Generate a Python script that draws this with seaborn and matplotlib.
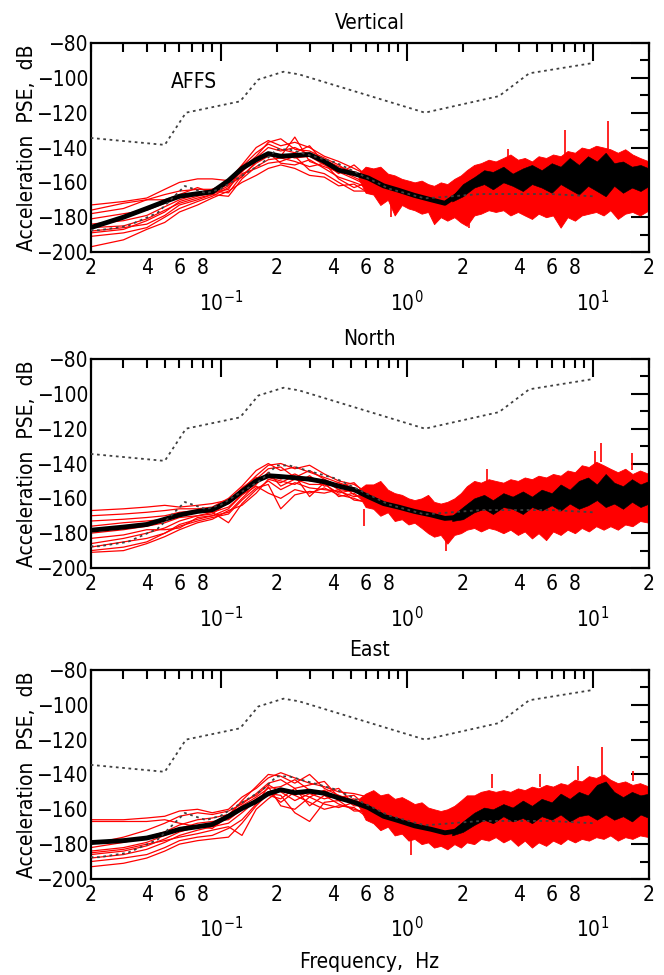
import matplotlib
matplotlib.use('Agg')
import matplotlib.pyplot as plt
from matplotlib.ticker import FixedLocator, FuncFormatter, MultipleLocator
import numpy as np
import pandas as pd
import seaborn as sns

# ---- frequency nodes (Hz) ----
red_f = [0.02, 0.03, 0.04, 0.05, 0.06, 0.075, 0.09, 0.11, 0.13, 0.155,
         0.18, 0.21, 0.25, 0.3, 0.36, 0.43, 0.52, 0.62, 0.75]
mean_f = red_f + [0.9, 1.1, 1.35, 1.6, 1.85, 2.2, 2.6, 3.0, 4.0, 5.0,
                  7.0, 10.0, 12.0, 15.0, 20.0]
band_f = [0.55, 0.6, 0.66, 0.72, 0.79, 0.86, 0.94, 1.02, 1.1, 1.2,
          1.3, 1.4, 1.52, 1.65, 1.8, 1.95, 2.1, 2.3, 2.5, 2.75,
          3.0, 3.3, 3.6, 3.95, 4.3, 4.7, 5.1, 5.6, 6.1, 6.7,
          7.3, 8.0, 8.7, 9.5, 10.4, 11.4, 12.4, 13.6, 14.9, 16.3,
          17.9, 20.0]
bb_f = [1.75, 2.0, 2.3, 2.6, 2.9, 3.3, 3.7, 4.2, 4.7, 5.3, 6.0,
        6.7, 7.5, 8.4, 9.4, 10.5, 11.7, 13.0, 14.5, 16.2, 18.0, 20.0]

# Peterson noise models (dotted)
nhnm_f = [0.02, 0.05, 0.065, 0.127, 0.159, 0.217, 0.263, 1.25, 3.125, 4.545, 10.0]
nhnm_db = [-134.5, -138.5, -120.0, -113.5, -101.0, -96.5, -98.0, -120.0, -110.5, -97.4, -91.5]
nlnm_f = [0.02, 0.0222, 0.0316, 0.0457, 0.0641, 0.0833, 0.1, 0.167, 0.2, 0.233,
          0.417, 0.806, 1.25, 2.5, 5.88, 10.0]
nlnm_db = [-187.5, -187.5, -185.0, -177.5, -162.1, -166.2, -163.7, -149.0, -141.1, -141.1,
           -148.7, -163.7, -169.2, -166.7, -166.7, -168.0]

# ---- Vertical ----
vert_mean = [-186, -180, -175, -171, -168, -166.5, -165.5, -159, -152, -147,
             -143.5, -145, -144.5, -144, -148, -153, -155, -157.5, -162,
             -164.5, -167.5, -170, -172, -167.5, -160.5, -156, -157.5, -157, -156.5,
             -155, -150, -151, -156, -158]
vert_red = [
    [-173, -171, -169, -164, -160, -158, -158, -159, -150, -140, -136, -139, -137, -140, -145, -148, -152, -156, -160],
    [-178, -175, -170, -167, -165, -164, -164, -160, -154, -146, -140, -142, -140, -144, -147, -151, -154, -158, -162],
    [-181, -178, -176, -172, -168, -166, -164, -161, -151, -143, -138, -141, -143, -139, -149, -155, -150, -157, -164],
    [-184, -182, -179, -174, -170, -167, -165, -166, -156, -149, -145, -144, -146, -145, -150, -153, -157, -161, -158],
    [-186, -185, -181, -176, -172, -169, -167, -162, -153, -147, -143, -149, -150, -147, -152, -157, -160, -163, -166],
    [-188, -186, -184, -179, -173, -170, -167, -168, -158, -151, -147, -146, -148, -151, -149, -158, -163, -160, -165],
    [-191, -189, -186, -180, -175, -171, -168, -163, -155, -152, -149, -148, -145, -153, -155, -160, -165, -165, -167],
    [-197, -193, -187, -183, -177, -173, -169, -165, -160, -156, -152, -150, -152, -156, -157, -162, -161, -166, -168],
    [-176, -172, -170, -170, -167, -163, -166, -164, -152, -145, -137, -135, -141, -142, -146, -150, -156, -155, -161],
    [-189, -187, -182, -177, -171, -168, -166, -161, -157, -148, -144, -145, -134, -148, -151, -154, -158, -162, -163],
]
vert_hi = [-155, -151, -152, -151, -155, -156, -158, -159, -160, -159,
           -161, -162, -160, -161, -158, -156, -153, -150, -149, -147,
           -148, -146, -144, -147, -146, -148, -145, -146, -144, -145,
           -142, -143, -140, -141, -139, -140, -141, -143, -141, -144,
           -146, -148]
vert_lo = [-158, -166, -167, -173, -170, -179, -173, -175, -176, -178,
           -177, -184, -180, -182, -180, -183, -185, -179, -178, -176,
           -177, -176, -179, -177, -179, -181, -178, -180, -179, -186,
           -180, -182, -179, -178, -177, -179, -176, -181, -178, -177,
           -179, -176]
vert_khi = [-168, -161, -157, -153, -154, -151, -155, -152, -150, -153, -149,
            -151, -146, -150, -145, -148, -143, -149, -148, -151, -150, -152]
vert_klo = [-171, -168, -163, -161, -164, -160, -162, -165, -161, -163, -166,
            -161, -164, -167, -162, -165, -168, -162, -166, -163, -165, -162]
vert_spikes = [(3.5, -146, -141), (7.1, -145, -130), (12.0, -141, -125),
               (0.82, -172, -180), (2.15, -180, -186)]

# ---- North ----
north_mean = [-178.3, -176.5, -175, -172, -169.5, -167.5, -166.5, -162, -156, -150,
              -147, -147.5, -148.2, -149, -150.5, -153, -155, -159, -163,
              -165, -167.5, -169.5, -171.5, -171, -164, -162.5, -163, -162, -161,
              -157.5, -154, -154, -157, -156.5]
north_red = [
    [-167, -166, -165, -164, -165, -164, -163, -161, -155, -147, -141, -140, -143, -141, -146, -150, -152, -157, -160],
    [-170, -169, -168, -167, -166, -166, -165, -160, -153, -144, -140, -144, -142, -145, -148, -151, -154, -158, -163],
    [-173, -172, -171, -170, -168, -167, -167, -163, -156, -149, -143, -142, -148, -144, -149, -153, -151, -159, -161],
    [-176, -174, -173, -172, -170, -168, -168, -165, -158, -151, -146, -149, -146, -150, -150, -155, -156, -156, -164],
    [-180, -178, -176, -174, -171, -170, -169, -162, -154, -148, -148, -150, -152, -147, -153, -151, -158, -160, -166],
    [-183, -181, -178, -178, -177, -171, -170, -168, -160, -152, -145, -153, -149, -152, -152, -157, -155, -161, -163],
    [-186, -183, -180, -177, -173, -170, -168, -174, -163, -155, -150, -155, -151, -154, -155, -156, -159, -158, -167],
    [-188, -185, -183, -180, -175, -172, -170, -166, -158, -153, -157, -160, -155, -157, -154, -158, -160, -163, -165],
    [-190, -188, -185, -180, -176, -173, -171, -169, -161, -154, -152, -166, -158, -156, -157, -155, -161, -162, -168],
    [-191, -190, -186, -182, -178, -174, -172, -167, -164, -157, -149, -151, -147, -159, -151, -159, -157, -164, -162],
]
north_hi = [-155, -152, -152, -150, -155, -157, -158, -160, -161, -160,
            -158, -162, -163, -162, -160, -157, -153, -150, -151, -149,
            -150, -151, -149, -150, -148, -149, -147, -148, -146, -147,
            -144, -145, -141, -142, -139, -141, -143, -145, -143, -146,
            -144, -146]
north_lo = [-158, -165, -166, -170, -168, -173, -172, -175, -174, -177,
            -180, -182, -181, -186, -181, -180, -178, -177, -179, -177,
            -178, -180, -178, -181, -179, -183, -180, -184, -179, -181,
            -178, -180, -177, -179, -176, -178, -176, -178, -175, -176,
            -173, -174]
north_khi = [-170, -165, -160, -158, -161, -157, -159, -156, -159, -155, -157,
             -152, -155, -150, -148, -152, -146, -151, -153, -149, -152, -150]
north_klo = [-173, -172, -168, -166, -169, -165, -166, -169, -165, -167, -164,
             -167, -163, -166, -164, -161, -165, -163, -166, -162, -165, -163]
north_spikes = [(0.59, -166, -176), (1.62, -182, -190), (2.7, -150, -143),
                (10.2, -140, -133), (11.0, -139, -128), (16.3, -144, -134)]

# ---- East ----
east_mean = [-179.1, -178, -176.5, -174, -171.5, -170, -168.7, -164, -159.5, -155.5,
             -151, -148.8, -150.5, -149.6, -150.8, -153.5, -156, -159, -164,
             -166.5, -169.5, -171.5, -173.5, -172.5, -166, -163, -162.5, -161, -160,
             -157.5, -155, -154.5, -158, -158]
east_red = [
    [-166, -166, -165, -164, -161, -160, -162, -160, -153, -148, -142, -139, -142, -145, -147, -150, -151, -153, -158],
    [-167, -167, -167, -166, -168, -170, -171, -164, -155, -147, -140, -141, -145, -140, -148, -152, -155, -157, -160],
    [-180, -176, -172, -168, -164, -162, -163, -161, -157, -151, -145, -143, -148, -146, -144, -153, -152, -159, -162],
    [-182, -179, -176, -173, -169, -166, -165, -163, -158, -153, -148, -147, -143, -149, -150, -148, -157, -156, -164],
    [-184, -182, -179, -175, -171, -168, -167, -166, -160, -154, -150, -156, -150, -153, -149, -155, -154, -160, -161],
    [-186, -184, -181, -177, -173, -170, -168, -163, -156, -152, -146, -150, -155, -151, -154, -152, -158, -158, -166],
    [-188, -186, -183, -179, -175, -172, -170, -168, -162, -155, -152, -154, -148, -158, -152, -157, -160, -162, -163],
    [-190, -188, -186, -182, -178, -176, -175, -171, -166, -157, -147, -158, -160, -153, -157, -159, -156, -163, -168],
    [-193, -191, -188, -184, -180, -178, -177, -176, -168, -158, -151, -152, -162, -167, -156, -155, -161, -161, -165],
    [-185, -183, -180, -178, -176, -174, -172, -170, -175, -160, -154, -149, -152, -156, -160, -158, -159, -165, -167],
]
east_hi = [-154, -151, -149, -152, -151, -154, -153, -155, -157, -156,
           -159, -160, -161, -160, -158, -155, -152, -152, -150, -149,
           -150, -149, -150, -148, -149, -147, -148, -146, -147, -145,
           -146, -143, -144, -141, -142, -140, -143, -145, -144, -146,
           -145, -147]
east_lo = [-158, -166, -168, -172, -170, -175, -174, -178, -177, -180,
           -179, -182, -181, -183, -180, -182, -179, -180, -177, -178,
           -176, -179, -177, -181, -178, -182, -179, -181, -178, -180,
           -177, -179, -177, -178, -176, -177, -175, -178, -176, -177,
           -175, -176]
east_khi = [-172, -167, -162, -159, -160, -157, -159, -155, -158, -154, -156,
            -151, -154, -150, -152, -146, -144, -150, -153, -150, -152, -151]
east_klo = [-175, -173, -169, -166, -168, -164, -167, -165, -168, -164, -166,
            -163, -167, -164, -163, -166, -163, -166, -164, -167, -163, -165]
east_spikes = [(1.05, -176, -186), (2.85, -148, -140), (5.2, -147, -140),
               (8.3, -143, -135), (11.2, -141, -124), (16.5, -144, -138)]

titles = ['Vertical', 'North', 'East']

sns.set_style('white')
plt.rcParams['font.family'] = ['DejaVu Sans']
plt.rcParams['font.stretch'] = 'condensed'
plt.rcParams['mathtext.fontset'] = 'dejavusans'
for key in ('text.color', 'axes.labelcolor', 'xtick.color', 'ytick.color', 'axes.edgecolor'):
    plt.rcParams[key] = 'black'

FS = 15
fig = plt.figure(figsize=(6.64, 9.75), dpi=100)
bottoms = [0.7415, 0.4174, 0.0985]

panels = [
    (vert_mean, vert_red, vert_hi, vert_lo, vert_khi, vert_klo, vert_spikes),
    (north_mean, north_red, north_hi, north_lo, north_khi, north_klo, north_spikes),
    (east_mean, east_red, east_hi, east_lo, east_khi, east_klo, east_spikes),
]

minor_pos = [k * 10.0 ** e for e in (-2, -1, 0, 1) for k in range(2, 10)
             if 0.0199 < k * 10.0 ** e < 20.01]


def minor_label(v, pos):
    k = int(round(v / 10 ** np.floor(np.log10(v) + 1e-9)))
    return str(k) if k in (2, 4, 6, 8) else ''


for i, (mean, red, hi, lo, khi, klo, spikes) in enumerate(panels):
    ax = fig.add_axes([0.1366, bottoms[i], 0.8408, 0.2144])
    ax.set_xscale('log')

    df = pd.DataFrame({
        'f': np.tile(red_f, len(red)),
        'db': np.concatenate([np.array(c, float) for c in red]),
        'curve': np.repeat(np.arange(len(red)), len(red_f)),
    })
    sns.lineplot(data=df, x='f', y='db', units='curve', estimator=None,
                 color='red', lw=0.9, ax=ax, zorder=2, legend=False)
    ax.fill_between(band_f, lo, hi, color='red', lw=0.6, zorder=2)
    ax.vlines([s[0] for s in spikes], [s[1] for s in spikes], [s[2] for s in spikes],
              color='red', lw=1.2, zorder=2)
    ax.fill_between(bb_f, klo, khi, color='black', lw=0.4, zorder=3)
    sns.lineplot(x=mean_f, y=mean, color='black', lw=3.5, ax=ax, zorder=3)

    sns.lineplot(x=nhnm_f, y=nhnm_db, color='#404040', lw=1.3,
                 linestyle=(0, (1.5, 2.0)), ax=ax, zorder=4)
    sns.lineplot(x=nlnm_f, y=nlnm_db, color='#404040', lw=1.3,
                 linestyle=(0, (1.5, 2.0)), ax=ax, zorder=4)

    ax.set_xlim(0.02, 20)
    ax.set_ylim(-200, -80)
    ax.xaxis.set_major_locator(FixedLocator([0.1, 1, 10]))
    ax.xaxis.set_major_formatter(FuncFormatter(
        lambda v, p: '$10^{%d}$' % int(round(np.log10(v)))))
    ax.xaxis.set_minor_locator(FixedLocator(minor_pos))
    ax.xaxis.set_minor_formatter(FuncFormatter(minor_label))
    ax.yaxis.set_major_locator(MultipleLocator(20))
    ax.yaxis.set_minor_locator(MultipleLocator(10))

    ax.tick_params(axis='x', which='major', direction='in', length=13, width=1.5,
                   top=True, pad=27, labelsize=FS)
    ax.tick_params(axis='x', which='minor', direction='in', length=6.5, width=1.5,
                   top=True, pad=4, labelsize=FS)
    ax.tick_params(axis='y', which='major', direction='in', length=13, width=1.5,
                   right=True, pad=2, labelsize=FS)
    ax.tick_params(axis='y', which='minor', direction='in', length=6.5, width=1.5,
                   right=True)
    for sp in ax.spines.values():
        sp.set_linewidth(1.6)
        sp.set_color('black')

    ax.set_xlabel('')
    ax.set_ylabel('Acceleration  PSE,  dB', fontsize=FS)
    ax.yaxis.set_label_coords(-0.097, 0.5)
    ax.set_title(titles[i], fontsize=FS, pad=10)
    if i == 0:
        ax.text(0.072, -102.4, 'AFFS', ha='center', va='center', fontsize=FS)

fig.text(0.557, 0.0133, 'Frequency,  Hz', ha='center', va='center', fontsize=FS)
fig.savefig('out.png', dpi=100)
